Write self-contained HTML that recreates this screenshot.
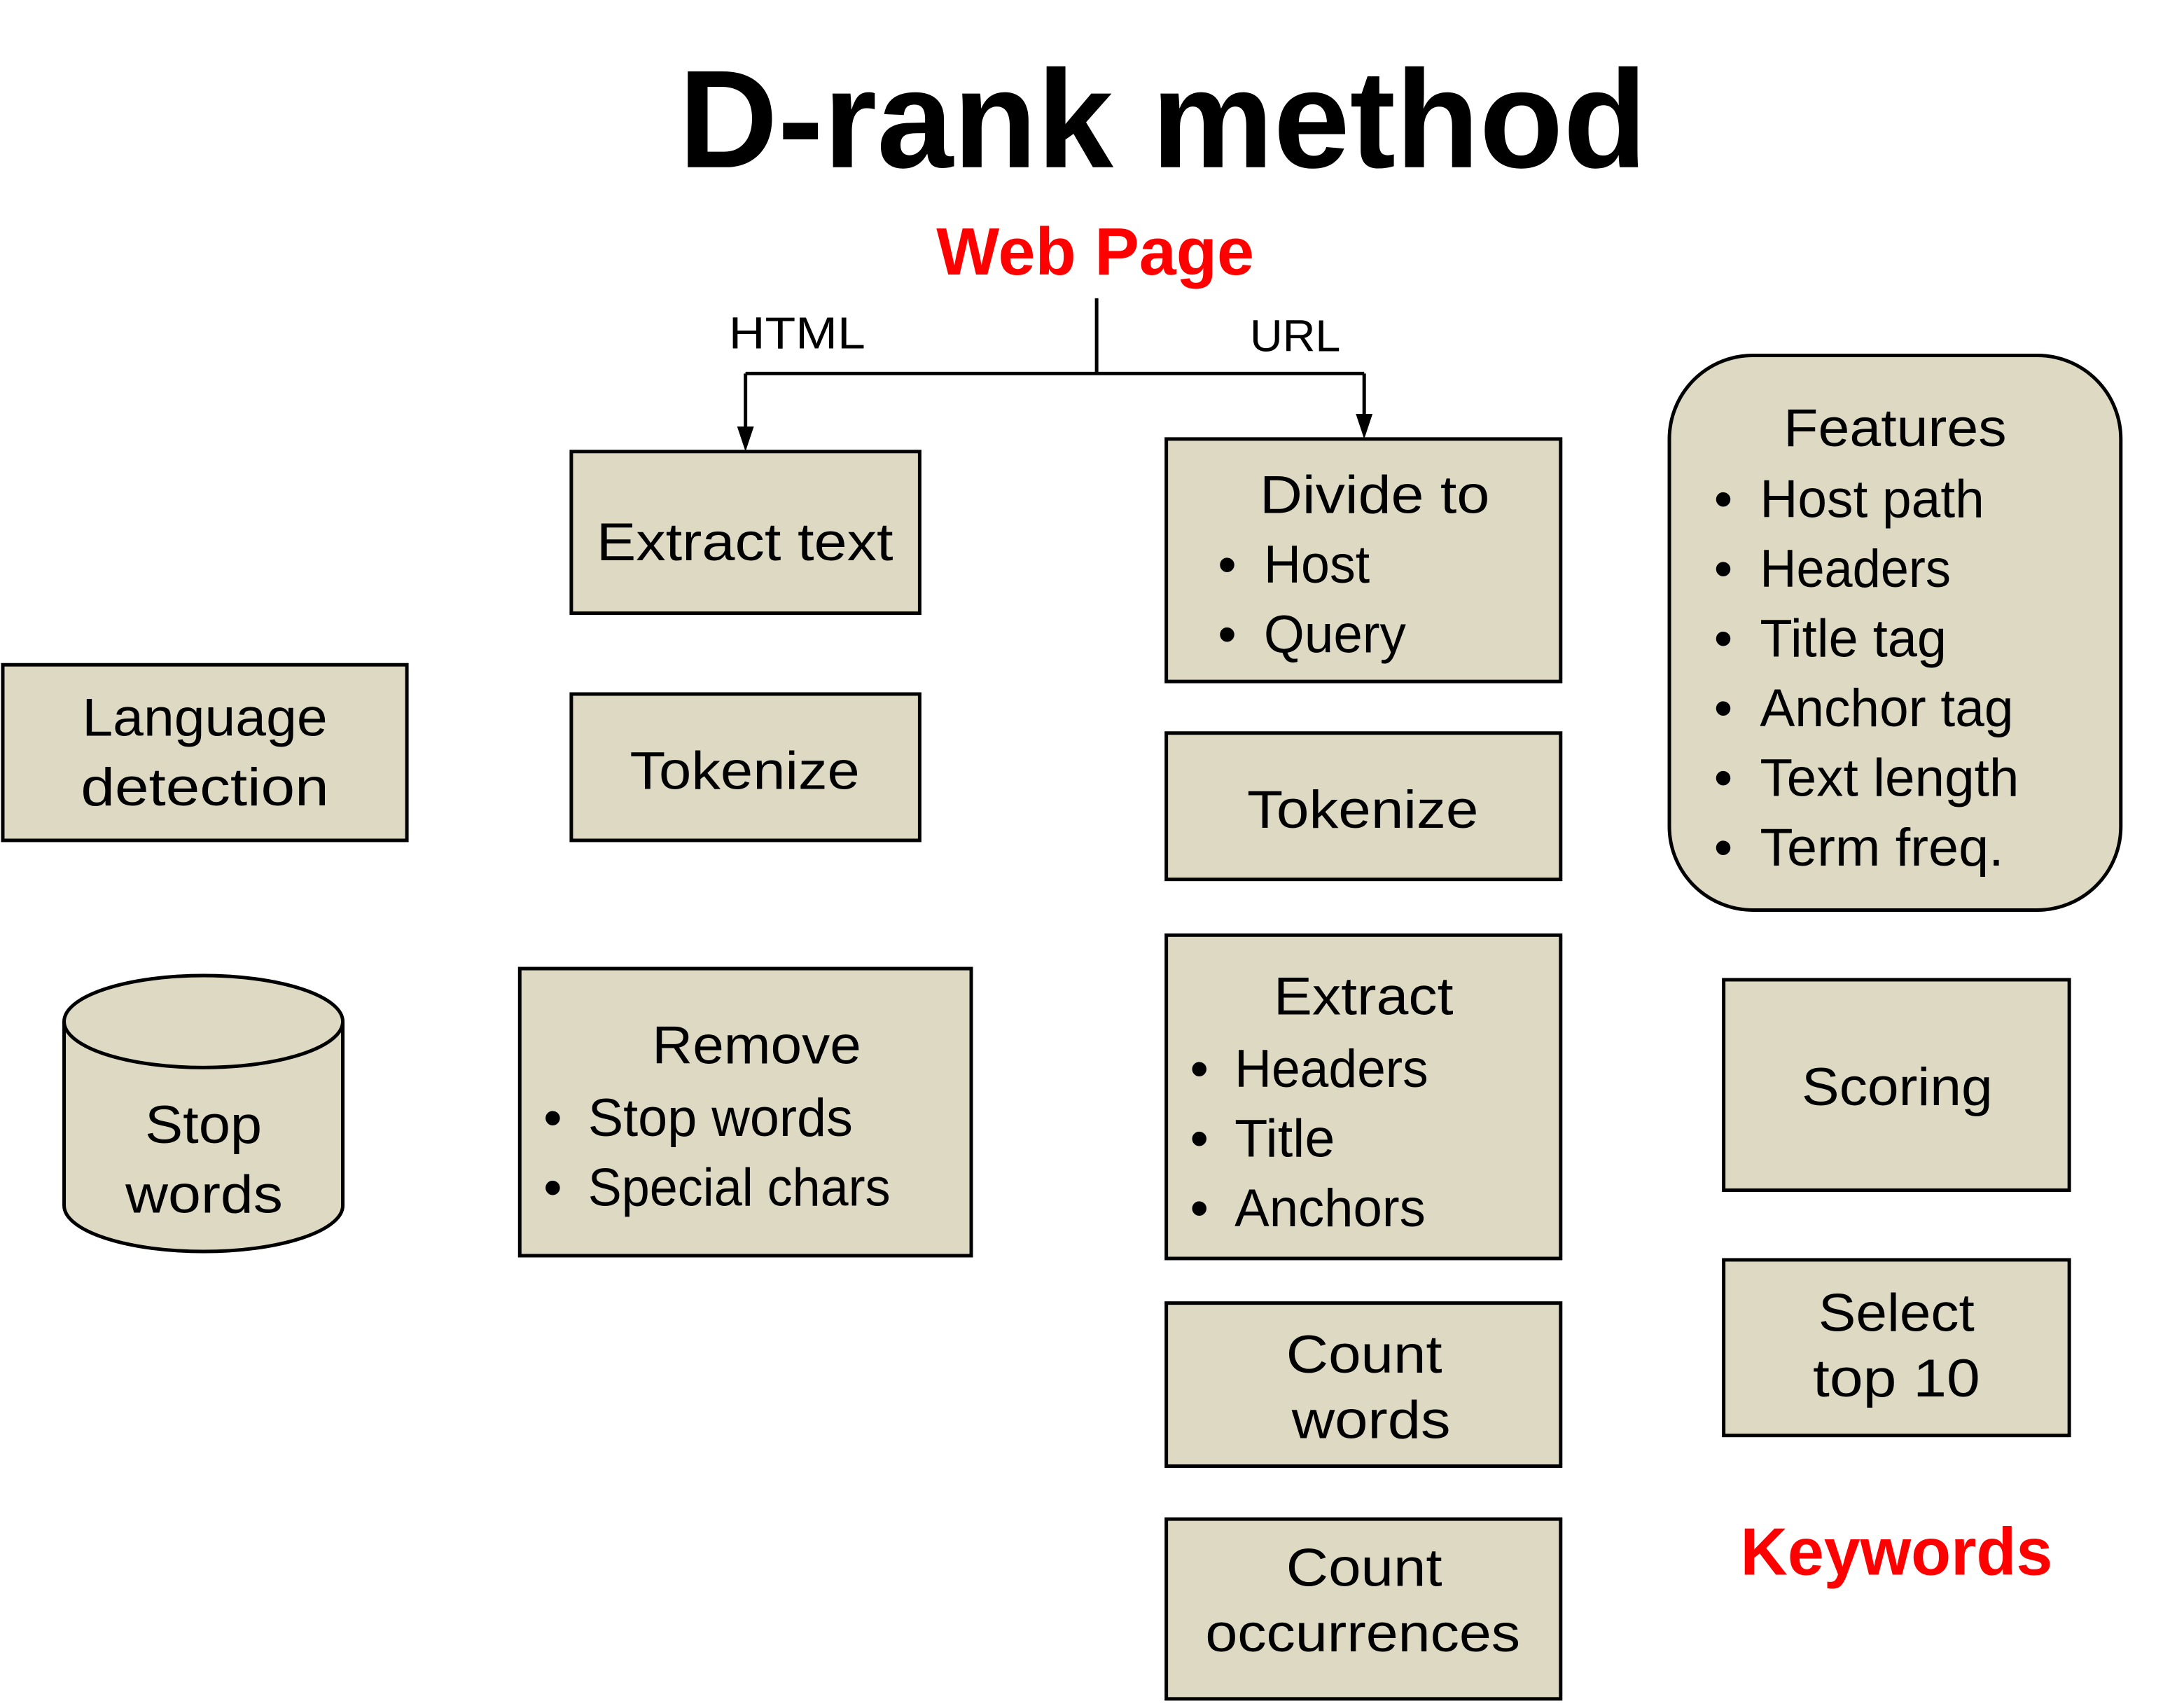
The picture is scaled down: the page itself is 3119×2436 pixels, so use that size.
<!DOCTYPE html>
<html><head><meta charset="utf-8"><style>html,body{margin:0;padding:0;background:#fff}svg{display:block}</style></head>
<body>
<svg width="3119" height="2436" viewBox="0 0 3119 2436" xmlns="http://www.w3.org/2000/svg" font-family="Liberation Sans, sans-serif">
<g transform="scale(0.995)">
<g fill="#000">
<text x="974" y="240" font-size="200" font-weight="bold" textLength="1390" lengthAdjust="spacingAndGlyphs">D-rank method</text>
</g>
<text x="1344" y="394" font-size="96" font-weight="bold" fill="#FF0000" textLength="456" lengthAdjust="spacingAndGlyphs">Web Page</text>
<text x="2498" y="2260" font-size="96" font-weight="bold" fill="#FF0000" textLength="448" lengthAdjust="spacingAndGlyphs">Keywords</text>
<g font-size="64" fill="#000">
<text x="1046" y="500" textLength="196" lengthAdjust="spacingAndGlyphs">HTML</text>
<text x="1794" y="504" textLength="130" lengthAdjust="spacingAndGlyphs">URL</text>
</g>
<g stroke="#000" stroke-width="5" fill="none">
<path d="M1574 428 V536 M1070 536 H1958 M1070 536 V616 M1958 536 V598"/>
</g>
<g fill="#000">
<polygon points="1058,612 1082,612 1070,648"/>
<polygon points="1946,594 1970,594 1958,630"/>
</g>
<g fill="#DDD9C3" stroke="#000" stroke-width="5">
<rect x="820" y="648" width="500" height="232"/>
<rect x="1674" y="630" width="566" height="348"/>
<rect x="4" y="954" width="580" height="252"/>
<rect x="820" y="996" width="500" height="210"/>
<rect x="1674" y="1052" width="566" height="210"/>
<rect x="2396" y="510" width="648" height="796" rx="120" ry="120"/>
<rect x="746" y="1390" width="648" height="412"/>
<rect x="1674" y="1342" width="566" height="464"/>
<rect x="1674" y="1870" width="566" height="234"/>
<rect x="1674" y="2180" width="566" height="258"/>
<rect x="2474" y="1406" width="496" height="302"/>
<rect x="2474" y="1808" width="496" height="252"/>
<path d="M92 1466 V1730 A200 66 0 0 0 492 1730 V1466 A200 66 0 0 0 92 1466 Z"/>
<path d="M92 1466 A200 66 0 0 0 492 1466" fill="none"/>
</g>
<g font-size="76" fill="#000">
<text x="856" y="804" textLength="426" lengthAdjust="spacingAndGlyphs">Extract text</text>
<text x="1808" y="736" textLength="330" lengthAdjust="spacingAndGlyphs">Divide to</text>
<text x="1748" y="836">•</text><text x="1814" y="836" textLength="152" lengthAdjust="spacingAndGlyphs">Host</text>
<text x="1748" y="936">•</text><text x="1814" y="936" textLength="204" lengthAdjust="spacingAndGlyphs">Query</text>
<text x="118" y="1056" textLength="352" lengthAdjust="spacingAndGlyphs">Language</text>
<text x="116" y="1156" textLength="356" lengthAdjust="spacingAndGlyphs">detection</text>
<text x="904" y="1132" textLength="330" lengthAdjust="spacingAndGlyphs">Tokenize</text>
<text x="1790" y="1188" textLength="332" lengthAdjust="spacingAndGlyphs">Tokenize</text>
<text x="2560" y="640" textLength="320" lengthAdjust="spacingAndGlyphs">Features</text>
<text x="2460" y="742">•</text><text x="2526" y="742" textLength="322" lengthAdjust="spacingAndGlyphs">Host path</text>
<text x="2460" y="842">•</text><text x="2526" y="842" textLength="274" lengthAdjust="spacingAndGlyphs">Headers</text>
<text x="2460" y="942">•</text><text x="2526" y="942" textLength="268" lengthAdjust="spacingAndGlyphs">Title tag</text>
<text x="2460" y="1042">•</text><text x="2526" y="1042" textLength="364" lengthAdjust="spacingAndGlyphs">Anchor tag</text>
<text x="2460" y="1142">•</text><text x="2526" y="1142" textLength="372" lengthAdjust="spacingAndGlyphs">Text length</text>
<text x="2460" y="1242">•</text><text x="2526" y="1242" textLength="350" lengthAdjust="spacingAndGlyphs">Term freq.</text>
<text x="208" y="1640" textLength="168" lengthAdjust="spacingAndGlyphs">Stop</text>
<text x="180" y="1740" textLength="226" lengthAdjust="spacingAndGlyphs">words</text>
<text x="936" y="1526" textLength="300" lengthAdjust="spacingAndGlyphs">Remove</text>
<text x="780" y="1630">•</text><text x="844" y="1630" textLength="380" lengthAdjust="spacingAndGlyphs">Stop words</text>
<text x="780" y="1730">•</text><text x="844" y="1730" textLength="434" lengthAdjust="spacingAndGlyphs">Special chars</text>
<text x="1828" y="1456" textLength="258" lengthAdjust="spacingAndGlyphs">Extract</text>
<text x="1708" y="1560">•</text><text x="1772" y="1560" textLength="278" lengthAdjust="spacingAndGlyphs">Headers</text>
<text x="1708" y="1660">•</text><text x="1772" y="1660" textLength="144" lengthAdjust="spacingAndGlyphs">Title</text>
<text x="1708" y="1760">•</text><text x="1772" y="1760" textLength="274" lengthAdjust="spacingAndGlyphs">Anchors</text>
<text x="1846" y="1970" textLength="224" lengthAdjust="spacingAndGlyphs">Count</text>
<text x="1854" y="2064" textLength="228" lengthAdjust="spacingAndGlyphs">words</text>
<text x="1846" y="2276" textLength="224" lengthAdjust="spacingAndGlyphs">Count</text>
<text x="1730" y="2370" textLength="452" lengthAdjust="spacingAndGlyphs">occurrences</text>
<text x="2586" y="1586" textLength="274" lengthAdjust="spacingAndGlyphs">Scoring</text>
<text x="2610" y="1910" textLength="224" lengthAdjust="spacingAndGlyphs">Select</text>
<text x="2602" y="2004" textLength="240" lengthAdjust="spacingAndGlyphs">top 10</text>
</g>
</g>
</svg>
</body></html>
